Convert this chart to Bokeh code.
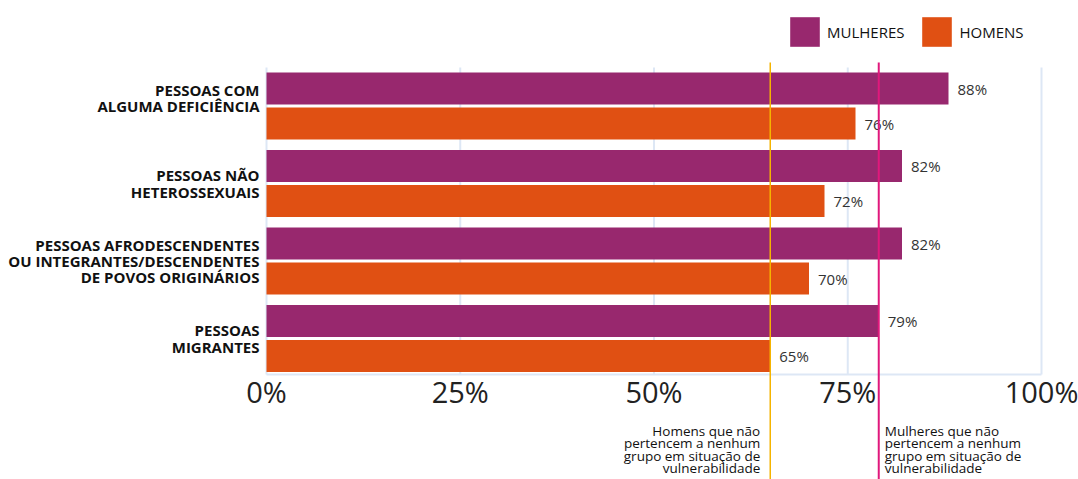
from bokeh.plotting import figure
from bokeh.models import Range1d, ColumnDataSource, Legend, LegendItem
from bokeh.core.properties import value
from bokeh.embed import file_html
from bokeh.resources import INLINE

# ---- data ----
categories = [
    "PESSOAS COM\nALGUMA DEFICIÊNCIA\n ",
    "PESSOAS NÃO\nHETEROSSEXUAIS",
    "PESSOAS AFRODESCENDENTES\nOU INTEGRANTES/DESCENDENTES\nDE POVOS ORIGINÁRIOS",
    "PESSOAS\nMIGRANTES",
]
mulheres = [88, 82, 82, 79]
homens = [76, 72, 70, 65]
ref_homens = 65
ref_mulheres = 79
x_ticks = [0, 25, 50, 75, 100]
x_tick_labels = ["0%", "25%", "50%", "75%", "100%"]
note_homens = "Homens que não\npertencem a nenhum\ngrupo em situação de\nvulnerabilidade"
note_mulheres = "Mulheres que não\npertencem a nenhum\ngrupo em situação de\nvulnerabilidade"

C_MUL = "#98286e"
C_HOM = "#e05013"
C_GRID = "#dde7f5"
FONT = "Open Sans"

W, H = 1078, 479
LEFT = 266
PX_PER_X = 7.75       # px per percent
PX_PER_G = 77.5       # px per group
G0 = 105.5            # px of group 0 centre

def gy(px):
    return (px - G0) / PX_PER_G

p = figure(width=W, height=H, output_backend="svg", toolbar_location=None,
           x_range=Range1d(-LEFT / PX_PER_X, (W - LEFT) / PX_PER_X),
           y_range=Range1d(gy(H), gy(0)),
           x_axis_location=None, y_axis_location=None,
           min_border_left=0, min_border_right=0,
           min_border_top=0, min_border_bottom=0)
p.outline_line_color = None
p.xgrid.visible = False
p.ygrid.visible = False
p.background_fill_color = "white"
p.border_fill_color = "white"

idx = list(range(len(categories)))

# category labels
p.text(x=[0] * len(idx), y=idx, text=categories, x_offset=-7, text_align="right",
       text_baseline="middle", text_font=value(FONT), text_font_style="bold",
       text_font_size="15px", text_line_height=0.82, text_color="#111111")

# grid lines (custom extents)
gtop, gbot = gy(67), gy(374)
p.segment(x0=x_ticks, x1=x_ticks, y0=[gtop] * len(x_ticks), y1=[gbot] * len(x_ticks),
          line_color=C_GRID, line_width=2)
p.segment(x0=[x_ticks[0]], x1=[x_ticks[-1]], y0=[gbot], y1=[gbot], line_color=C_GRID, line_width=2)

# bars
off = 17.5 / PX_PER_G
bh = 32 / PX_PER_G
src_m = ColumnDataSource(dict(y=[i - off for i in idx], v=mulheres,
                              t=[f"{v}%" for v in mulheres]))
src_h = ColumnDataSource(dict(y=[i + off for i in idx], v=homens,
                              t=[f"{v}%" for v in homens]))
rm = p.hbar(y="y", right="v", left=0, height=bh, source=src_m, fill_color=C_MUL, line_color=None)
rh = p.hbar(y="y", right="v", left=0, height=bh, source=src_h, fill_color=C_HOM, line_color=None)

for s in (src_m, src_h):
    p.text(x="v", y="y", text="t", source=s, x_offset=9, text_baseline="middle",
           text_font=value(FONT), text_font_size="15px", text_color="#333333")

# reference lines
p.segment(x0=[ref_homens], x1=[ref_homens], y0=[gy(62)], y1=[gy(H)],
          line_color="#f5b400", line_width=1.5)
p.segment(x0=[ref_mulheres], x1=[ref_mulheres], y0=[gy(62)], y1=[gy(H)],
          line_color="#e0187c", line_width=2)

# x tick labels
p.text(x=x_ticks, y=[gy(391)] * len(x_ticks), text=x_tick_labels, text_align="center",
       text_baseline="middle", text_font=value(FONT), text_font_size="29px",
       text_color="#222222")

# notes
p.text(x=[ref_homens], y=[gy(449)], text=[note_homens], x_offset=-10, text_align="right",
       text_baseline="middle", text_font=value(FONT), text_font_size="13.5px",
       text_line_height=0.69, text_color="#111111")
p.text(x=[ref_mulheres], y=[gy(449)], text=[note_mulheres], x_offset=6, text_align="left",
       text_baseline="middle", text_font=value(FONT), text_font_size="13.5px",
       text_line_height=0.69, text_color="#111111")

legend = Legend(items=[LegendItem(label="MULHERES", renderers=[rm]),
                       LegendItem(label="HOMENS", renderers=[rh])],
                orientation="horizontal", location=(786 - 0, H - 13 - 37),
                glyph_width=37, glyph_height=37, label_standoff=4, spacing=14,
                padding=0, margin=0, border_line_color=None, background_fill_alpha=0,
                label_text_font=FONT, label_text_font_size="15px", label_text_color="#111111")
p.add_layout(legend)

open("out.html", "w").write(file_html(p, INLINE))
